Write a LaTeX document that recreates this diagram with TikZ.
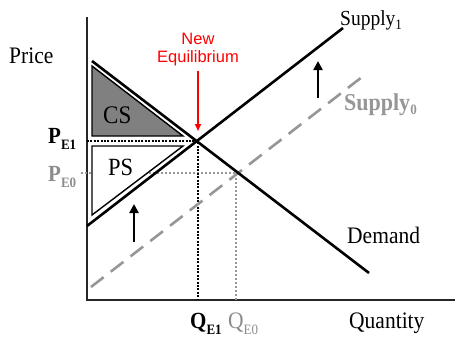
\documentclass[tikz,border=0pt]{standalone}
\usepackage{fontspec}
\setmainfont{Liberation Serif}
\newfontfamily\arialf{Liberation Sans}
\usetikzlibrary{arrows.meta}
\definecolor{csgray}{RGB}{128,128,128}
\definecolor{lgray}{RGB}{150,150,150}
\definecolor{tgray}{RGB}{140,140,140}
\definecolor{eqred}{RGB}{255,0,0}
\newcommand{\fsz}[1]{\fontsize{#1}{#1}\selectfont}
\newcommand{\lowsub}[2]{\raisebox{-#1}{\fsz{13}#2}}
\newcommand{\tx}[1]{\scalebox{1}[1.1]{#1}}
\begin{document}
\begin{tikzpicture}[x=1pt,y=-1pt,
  axis/.style={line width=1.2pt,black!85},
  curve/.style={line width=2.6pt,black},
  dashcurve/.style={line width=2.6pt,lgray,dash pattern=on 16pt off 9pt},
  bdot/.style={line width=2.8pt,black,dash pattern=on 2pt off 1.4pt},
  gdot/.style={line width=2pt,lgray,dash pattern=on 2pt off 2pt},
  tri/.style={line width=1.4pt,black},
  shiftarrow/.style={line width=2.6pt,-{Triangle[width=9pt,length=9pt]}},
  lab/.style={inner sep=0pt,anchor=base west,font=\fsz{21.5}},
  every node/.style={inner sep=0pt}]
\useasboundingbox (0,0) rectangle (455,338);
% axes
\coordinate (O) at (87,300);
\coordinate (ytop) at (87,17);
\coordinate (xend) at (455,300);
\draw[axis] (ytop) -- (O) -- (xend);
% key points
\coordinate (E1) at (198,141);
\coordinate (E0) at (236,173);
\coordinate (PE1) at (87,141);
\coordinate (QE1) at (198,300);
\coordinate (PE0) at (81,173);
\coordinate (QE0) at (236,300);
% dotted guides
\draw[gdot] (PE0) -- (E0) -- (QE0);
\draw[bdot] (PE1) -- (E1) -- (QE1);
% surplus triangles
\coordinate (cs1) at (92,66);
\coordinate (cs2) at (92,136);
\coordinate (cs3) at (183,136);
\filldraw[tri,fill=csgray] (cs1) -- (cs2) -- (cs3) -- cycle;
\coordinate (ps1) at (92,146);
\coordinate (ps2) at (183,146);
\coordinate (ps3) at (92,215);
\filldraw[tri,fill=white] (ps1) -- (ps2) -- (ps3) -- cycle;
% curves
\coordinate (s0a) at (91,287);
\coordinate (s0b) at (362,77);
\draw[dashcurve] (s0a) -- (s0b);
\coordinate (s1a) at (87,226);
\coordinate (s1b) at (343,28);
\draw[curve] (s1a) -- (s1b);
\coordinate (da) at (92,61);
\coordinate (db) at (369,273);
\draw[curve] (da) -- (db);
% shift arrows
\coordinate (a1s) at (318,98);
\coordinate (a1e) at (318,61);
\draw[shiftarrow] (a1s) -- (a1e);
\coordinate (a2s) at (134,242);
\coordinate (a2e) at (134,204);
\draw[shiftarrow] (a2s) -- (a2e);
% labels
\node[lab] (price) at (9,63) {\tx{Price}};
\node[lab,font=\fsz{19.5}] (sup1) at (340,25) {\tx{Supply\lowsub{4pt}{1}}};
\node[lab,font=\fsz{22}\bfseries,text=lgray] (sup0) at (344,110) {\tx{Supply\lowsub{4pt}{0}}};
\node[lab] (dem) at (347,243) {\tx{Demand}};
\node[lab] (qty) at (349,328) {\tx{Quantity}};
\node[lab,font=\fsz{21}\bfseries] (qe1) at (190,328) {\tx{Q\lowsub{6pt}{E1}}};
\node[lab,text=tgray] (qe0) at (228,328) {\tx{Q\lowsub{6pt}{E0}}};
\node[lab,font=\fsz{21}\bfseries] (pe1) at (48,143) {\tx{P\lowsub{6pt}{E1}}};
\node[lab,font=\fsz{21}\bfseries,text=tgray] (pe0) at (48,181) {\tx{P\lowsub{6pt}{E0}}};
\node[lab,font=\fsz{23}] (cs) at (103,123) {\tx{CS}};
\node[lab,font=\fsz{22.5}] (ps) at (108,175) {\tx{PS}};
% new equilibrium
\node[anchor=base,font=\arialf\fsz{16.5},text=eqred] (new) at (198,44) {New};
\node[anchor=base,font=\arialf\fsz{16.5},text=eqred] (eq) at (198,62) {Equilibrium};
\coordinate (redend) at (198,131);
\coordinate (redstart) at (198,71);
\draw[line width=1.6pt,eqred,-{Triangle[width=6pt,length=7pt]}] (redstart) -- (redend);
\end{tikzpicture}
\end{document}
